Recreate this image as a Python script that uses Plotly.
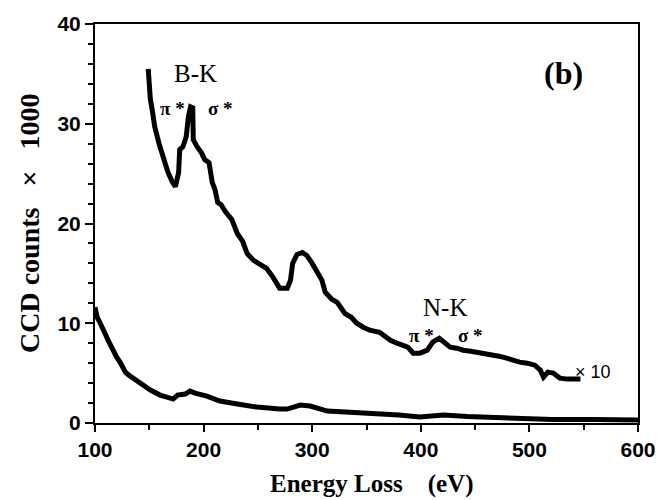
import plotly.graph_objects as go

# Upper spectrum (x10), energy loss in eV and counts/1000
energy_upper = [149, 149.5, 151, 153, 155, 159, 163, 167, 171, 174, 177, 178, 181, 184, 186, 188, 190, 190.5, 194,
                198, 201, 205, 208, 210.5, 213, 216, 220, 226, 231, 236, 240, 246, 252, 258, 264, 270, 277, 280,
                282, 286, 291, 295, 300, 305, 309, 312, 318, 323, 330, 336, 341, 347, 353, 362, 367, 372, 378, 384, 388, 393,
                399, 406, 411, 417, 422, 427, 433, 439, 446, 452, 458, 464, 472, 479, 485, 491, 498, 505, 510, 513, 517, 522, 528,
                535, 547]
counts_upper = [35.5, 33.8, 32.4, 31.2, 29.7, 28.0, 26.4, 25.2, 24.2, 23.7, 25.1, 27.4, 27.7, 28.7, 30.7, 31.7, 31.6,
                28.4, 27.7, 27.1, 26.4, 26.1, 24.1, 23.4, 22.1, 21.9, 21.2, 20.4, 19.0, 18.2, 17.0, 16.3, 15.9, 15.5,
                14.6, 13.5, 13.5, 14.3, 16.0, 16.9, 17.1, 16.8, 16.0, 15.0, 14.3, 13.1, 12.4, 12.1, 11.0, 10.6, 10.0,
                9.6, 9.3, 9.1, 8.7, 8.3, 8.0, 7.8, 7.6, 7.0, 7.0, 7.3, 8.1, 8.5, 8.0, 7.6, 7.5, 7.3, 7.2, 7.1, 7.0, 6.8,
                6.7, 6.5, 6.3, 6.1, 6.0, 5.8, 5.3, 4.6, 5.1, 5.0, 4.5, 4.4, 4.4]

# Lower spectrum (x1)
energy_lower = [100, 102, 104, 107, 110, 112, 115, 117, 120, 123, 126, 128, 131, 135, 140, 144, 151, 160, 166, 172,
                176, 183, 187.5, 192, 203, 209, 215, 231, 249, 270, 277, 289, 298, 314, 332, 362, 380, 399, 410, 421,
                443, 470, 496, 521, 560, 600]
counts_lower = [11.6, 10.6, 10.2, 9.6, 8.8, 8.3, 7.6, 7.1, 6.6, 6.1, 5.5, 5.1, 4.8, 4.5, 4.1, 3.8, 3.3, 2.8, 2.6, 2.4,
                2.8, 2.9, 3.2, 3.0, 2.7, 2.5, 2.2, 1.9, 1.6, 1.4, 1.4, 1.8, 1.7, 1.2, 1.1, 1.0, 0.8, 0.6, 0.7, 0.8,
                0.65, 0.55, 0.45, 0.35, 0.35, 0.3]

x_ticks = [100, 200, 300, 400, 500, 600]
y_ticks = [0, 10, 20, 30, 40]

fig = go.Figure()
fig.add_trace(go.Scatter(x=energy_upper, y=counts_upper, mode="lines",
                         line=dict(color="black", width=5), showlegend=False))
fig.add_trace(go.Scatter(x=energy_lower, y=counts_lower, mode="lines",
                         line=dict(color="black", width=5), showlegend=False))

serif = "Liberation Serif, Times New Roman, serif"
sans = "Liberation Sans, Arial, sans-serif"

def ann(x, y, text, size, font=serif, bold=False):
    t = f"<b>{text}</b>" if bold else text
    fig.add_annotation(x=x, y=y, text=t, showarrow=False, xref="x", yref="y",
                       xanchor="center", yanchor="middle",
                       font=dict(family=font, size=size, color="black"))

ann(192.5, 35.0, "B-K", 25)
ann(171.4, 31.5, "π *", 19, bold=True)
ann(215.5, 31.5, "σ *", 19, bold=True)
ann(422.7, 11.6, "N-K", 25)
ann(400.6, 8.8, "π *", 19, bold=True)
ann(445.8, 8.8, "σ *", 19, bold=True)
ann(558.6, 5.1, "× 10", 18, font=sans)
ann(531, 35.1, "(b)", 32, bold=True)

# figure size / margins (page has an 8px body margin)
W, H = 657, 492
L, R, T, B = 87, 27, 16, 77
pw, ph = W - L - R, H - T - B

def paper_xy(px, py):
    return (px - L) / pw, (H - B - py) / ph

tx, ty = paper_xy(363, 476)
fig.add_annotation(x=tx, y=ty, xref="paper", yref="paper", xanchor="center", yanchor="middle",
                   text="<b>Energy Loss&nbsp;&nbsp;&nbsp;&nbsp;(eV)</b>", showarrow=False,
                   font=dict(family=serif, size=25, color="black"))
yx, yy = paper_xy(21, 216)
fig.add_annotation(x=yx, y=yy, xref="paper", yref="paper", xanchor="center", yanchor="middle",
                   text="<b>CCD counts&nbsp;&nbsp;&nbsp;×&nbsp;&nbsp;&nbsp;1000</b>", showarrow=False, textangle=-90,
                   font=dict(family=serif, size=28, color="black"))

fig.update_layout(
    width=W, height=H,
    margin=dict(l=L, r=R, t=T, b=B),
    plot_bgcolor="white", paper_bgcolor="white",
    xaxis=dict(range=[100, 600], tickvals=x_ticks, ticktext=[str(v) for v in x_ticks], automargin=False,
               showgrid=False, zeroline=False, showline=True, linecolor="black", linewidth=2,
               mirror=True, ticks="outside", ticklen=7, tickwidth=2, tickcolor="black",
               minor=dict(dtick=50, tick0=100, ticks="outside", ticklen=5, tickwidth=2, tickcolor="black"),
               tickfont=dict(family=sans, size=21, color="black", weight="bold")),
    yaxis=dict(range=[0, 40], tickvals=y_ticks, ticktext=[str(v) for v in y_ticks], automargin=False,
               showgrid=False, zeroline=False, showline=True, linecolor="black", linewidth=2,
               mirror=True, ticks="outside", ticklen=8, tickwidth=2, tickcolor="black",
               minor=dict(dtick=2, tick0=0, ticks="outside", ticklen=5, tickwidth=2, tickcolor="black"),
               tickfont=dict(family=sans, size=21, color="black", weight="bold")),
)

fig.write_html("out.html")
